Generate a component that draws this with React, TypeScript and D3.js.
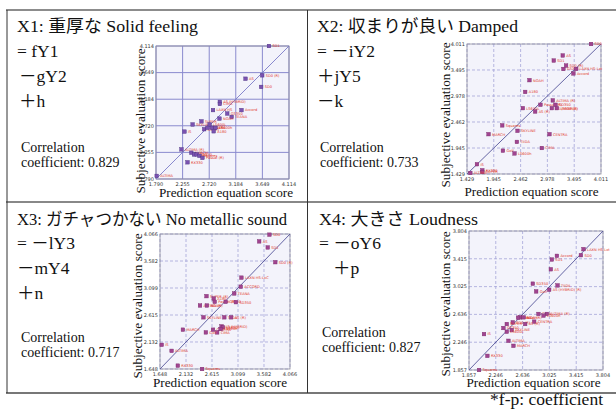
import React from 'react';
import * as d3 from 'd3';

// X1: solid feeling
const x1Ticks = [1.790, 2.255, 2.720, 3.184, 3.649, 4.114];
const x1Names = ['SD1', 'AS', 'SD0 (R)', 'SD0', 'AS (HYBRID)', 'CIMA', 'LAXN HS', 'GS350', 'Accord', 'TEANA', 'NOAH', 'SUPER', 'SKYLINE', 'LS600L', 'IS', 'AS (R)', 'CENTRA', 'Golf', 'LS600h', 'A180', 'ALTIMA (R)', 'MARCH', 'TIIDA', 'SD350', 'Squares', 'Passat (R)', 'RX330', 'ALTIMA'];
const x1Pred = [3.764, 3.355, 3.646, 3.628, 2.905, 2.905, 2.786, 3.035, 3.284, 3.112, 2.899, 2.584, 2.430, 2.727, 2.288, 2.632, 2.691, 2.768, 2.828, 2.798, 2.235, 2.407, 2.454, 2.501, 2.549, 2.602, 2.341, 1.802];
const x1Subj = [4.114, 3.542, 3.602, 3.399, 3.137, 3.101, 2.994, 2.934, 2.994, 2.875, 2.845, 2.797, 2.743, 2.743, 2.618, 2.660, 2.684, 2.684, 2.684, 2.624, 2.308, 2.249, 2.219, 2.219, 2.195, 2.159, 2.082, 1.844];

// X2: damped
const x2Ticks = [1.429, 1.945, 2.462, 2.978, 3.495, 4.011];
const x2Names = ['SD0', 'AS', 'SD1', 'SD0 (R)', 'GS350', 'LAXN HS-Lxt', 'Accord', 'NOAH', 'A180', 'ALTIMA (R)', 'Passat (R)', 'SD350', 'LS600L', 'AS (HYBRID)', 'LS600 (R)', 'AS (R)', 'Squares', 'SKYLINE', 'MARCH', 'CENTRA', 'TIIDA', 'CIMA', 'Golf', 'LS600h', 'IS', 'RX330', 'SUPER', 'ALTIMA'];
const x2Pred = [3.819, 3.274, 3.101, 3.338, 3.287, 3.530, 3.479, 2.633, 2.550, 3.082, 2.845, 3.133, 2.505, 3.063, 3.159, 2.742, 2.108, 2.403, 1.845, 3.018, 2.390, 2.871, 2.121, 2.345, 1.621, 1.724, 1.724, 1.493];
const x2Subj = [4.011, 3.783, 3.682, 3.582, 3.515, 3.515, 3.427, 3.293, 3.059, 2.891, 2.804, 2.804, 2.737, 2.737, 2.737, 2.670, 2.395, 2.287, 2.220, 2.220, 2.066, 1.945, 1.892, 1.838, 1.623, 1.503, 1.469, 1.449];

// X3: no metallic sound
const x3Ticks = [1.648, 2.132, 2.615, 3.099, 3.582, 4.066];
const x3Names = ['SD0', 'AS', 'SD1', 'SD0 (R)', 'LAXN HS-LxC', 'ACCORD', 'TEANA', 'SUPER (R)', 'A180', 'Passat (R)', 'GS350', 'SD350', 'ALTIMA (R)', 'NOAH', 'SKYLINE', 'TIIDA', 'AS (R)', 'AS (HYBRID)', 'LS600L', 'CENTRA', 'LS600h', 'CIMA', 'Golf', 'MARCH', 'IS', 'ALTIMA', 'RX330', 'Squares'];
const x3Pred = [3.684, 3.493, 3.652, 3.792, 3.162, 3.150, 3.029, 2.513, 2.647, 2.666, 2.870, 3.060, 2.392, 2.520, 2.456, 2.844, 2.971, 2.793, 2.819, 2.634, 2.774, 2.711, 2.501, 2.074, 1.680, 1.864, 1.979, 2.431];
const x3Subj = [4.054, 3.934, 3.825, 3.561, 3.284, 3.122, 3.001, 2.953, 2.911, 2.851, 2.851, 2.845, 2.785, 2.785, 2.574, 2.574, 2.574, 2.412, 2.394, 2.352, 2.364, 2.304, 2.304, 2.352, 2.081, 1.973, 1.708, 1.648];

// X4: loudness
const x4Ticks = [1.857, 2.246, 2.636, 3.025, 3.415, 3.804];
const x4Names = ['LAXN HS-Lxt', 'Accord', 'SD0', 'SD1', 'AS', 'SD350', 'TIIDA', 'Golf', 'AS (HYBRID) (R)', 'CIMA', 'ALTIMA (R)', 'LS600h', 'Passat (R)', 'A180', 'NOAH', 'CENTRA', 'SD0 (R)', 'SUPER', 'AS (R)', 'GS350', 'SKYLINE', 'LS600L', 'IS', 'ALTIMA', 'MARCH', 'RX330', 'Squares'];
const x4Pred = [3.522, 3.134, 3.483, 3.061, 3.046, 2.784, 3.144, 2.833, 3.022, 2.867, 2.988, 2.940, 2.600, 2.570, 2.650, 2.804, 2.493, 2.406, 2.673, 2.357, 2.478, 2.406, 2.075, 2.430, 2.503, 2.124, 2.003];
const x4Subj = [3.550, 3.456, 3.465, 3.404, 3.268, 3.066, 3.042, 2.958, 2.981, 2.642, 2.642, 2.619, 2.595, 2.590, 2.595, 2.534, 2.525, 2.501, 2.501, 2.445, 2.417, 2.393, 2.360, 2.266, 2.196, 2.055, 1.857];

const serif = "'Liberation Serif', 'DejaVu Serif', 'Noto Sans CJK JP', serif";
const fmt = d3.format('.3f');

function Scatter(props: any) {
  const { left, top, right, bottom, ticks, pred, subj, names, solid, yTitle, xTitle } = props;
  const lo = ticks[0];
  const hi = ticks[ticks.length - 1];
  const x = d3.scaleLinear().domain([lo, hi]).range([left, right]);
  const y = d3.scaleLinear().domain([lo, hi]).range([bottom, top]);
  const gridColor = solid ? '#8a8ace' : '#a4a4d8';
  const dash = solid ? undefined : '3,2';
  return (
    <g>
      <rect x={left} y={top} width={right - left} height={bottom - top} fill="#f3f3fb" />
      {ticks.map((t: number, i: number) => (
        <g key={'g' + i}>
          <line x1={x(t)} x2={x(t)} y1={top} y2={bottom} stroke={gridColor} strokeWidth={solid ? 1 : 0.8} strokeDasharray={dash} />
          <line x1={left} x2={right} y1={y(t)} y2={y(t)} stroke={gridColor} strokeWidth={solid ? 1 : 0.8} strokeDasharray={dash} />
          <text x={x(t)} y={bottom + 7} fontSize={5} textAnchor="middle" fill="#333" fontFamily="'DejaVu Sans', sans-serif">{fmt(t)}</text>
          <text x={left - 2} y={y(t) + 1.8} fontSize={5} textAnchor="end" fill="#333" fontFamily="'DejaVu Sans', sans-serif">{fmt(t)}</text>
        </g>
      ))}
      <rect x={left} y={top} width={right - left} height={bottom - top} fill="none" stroke="#8c8c9c" strokeWidth={0.8} />
      <line x1={x(lo)} y1={y(lo)} x2={x(hi)} y2={y(hi)} stroke={solid ? '#7c7cc8' : '#55559a'} strokeWidth={0.9} />
      {pred.map((p: number, i: number) => (
        <g key={'p' + i}>
          <rect x={x(p) - 1.8} y={y(subj[i]) - 1.8} width={3.6} height={3.6} fill={solid ? '#7a52b0' : '#a04490'} stroke={solid ? '#4a3080' : '#7a2a6a'} strokeWidth={0.4} />
          <text x={x(p) + 3.5} y={y(subj[i]) + 1.4} fontSize={3.6} fill="#e23a2a" fontFamily="'DejaVu Sans', sans-serif">{names[i]}</text>
        </g>
      ))}
      <text transform={`translate(${yTitle[0]},${yTitle[1]}) rotate(-90)`} textAnchor="middle" fontSize={13.2} fontFamily={serif} fill="#111">Subjective evaluation score</text>
      <text x={xTitle[0]} y={xTitle[1]} textAnchor="middle" fontSize={13.2} fontFamily={serif} fill="#111">Prediction equation score</text>
    </g>
  );
}

function Formula(props: any) {
  const { x, title, titleW, titleY, lines, corr, corrX, corrY } = props;
  return (
    <g fontFamily={serif} fill="#111">
      <text x={x} y={titleY} fontSize={17.5} textLength={titleW} lengthAdjust="spacingAndGlyphs">{title}</text>
      {lines.map((l: any, i: number) => (
        <text key={i} x={l[0]} y={l[1]} fontSize={17.5}>{l[2]}</text>
      ))}
      <text x={corrX} y={corrY} fontSize={14}>Correlation</text>
      <text x={corrX} y={corrY + 15} fontSize={14}>coefficient: {corr}</text>
    </g>
  );
}

export default function App() {
  return (
    <svg width={616} height={410} style={{ position: 'absolute', left: 0, top: 0, background: '#fff' }}>
      {/* table frame */}
      <line x1={6} x2={616} y1={10} y2={10} stroke="#666" strokeWidth={1.6} />
      <line x1={6} x2={616} y1={202} y2={202} stroke="#888" strokeWidth={2} />
      <line x1={6} x2={616} y1={393} y2={393} stroke="#777" strokeWidth={2} />
      <line x1={7} x2={7} y1={10} y2={393} stroke="#333" strokeWidth={1} />
      <line x1={307.5} x2={307.5} y1={10} y2={393} stroke="#333" strokeWidth={1} />

      <Formula x={17} title="X1: 重厚な Solid feeling" titleW={181} titleY={32}
        lines={[[17, 57, '= fY1'], [19, 82, '－gY2'], [19, 107, '＋h']]}
        corr="0.829" corrX={21} corrY={152} />
      <Scatter left={156} top={46} right={289} bottom={179} ticks={x1Ticks} pred={x1Pred} subj={x1Subj} names={x1Names} solid
        yTitle={[145, 121]} xTitle={[226, 197]} />

      <Formula x={317} title="X2: 収まりが良い Damped" titleW={201} titleY={32}
        lines={[[317, 57, '= －iY2'], [317, 82, '＋jY5'], [317, 107, '－k']]}
        corr="0.733" corrX={320} corrY={152} />
      <Scatter left={467} top={44} right={601} bottom={174} ticks={x2Ticks} pred={x2Pred} subj={x2Subj} names={x2Names}
        yTitle={[449.5, 115]} xTitle={[531.5, 196]} />

      <Formula x={17} title="X3: ガチャつかない No metallic sound" titleW={270} titleY={225}
        lines={[[17, 249, '= －lY3'], [17, 274, '－mY4'], [17, 299, '＋n']]}
        corr="0.717" corrX={21} corrY={342} />
      <Scatter left={160} top={234} right={290} bottom={369} ticks={x3Ticks} pred={x3Pred} subj={x3Subj} names={x3Names}
        yTitle={[141.5, 306]} xTitle={[220, 387]} />

      <Formula x={319} title="X4: 大きさ Loudness" titleW={159} titleY={225}
        lines={[[319, 249, '= －oY6'], [333, 274, '＋p']]}
        corr="0.827" corrX={322} corrY={337} />
      <Scatter left={469} top={231} right={603} bottom={370} ticks={x4Ticks} pred={x4Pred} subj={x4Subj} names={x4Names}
        yTitle={[449.5, 304]} xTitle={[533.5, 387]} />

      <text x={603} y={405} textAnchor="end" fontSize={17.5} fontFamily={serif} fill="#111">*f-p: coefficient</text>
    </svg>
  );
}
